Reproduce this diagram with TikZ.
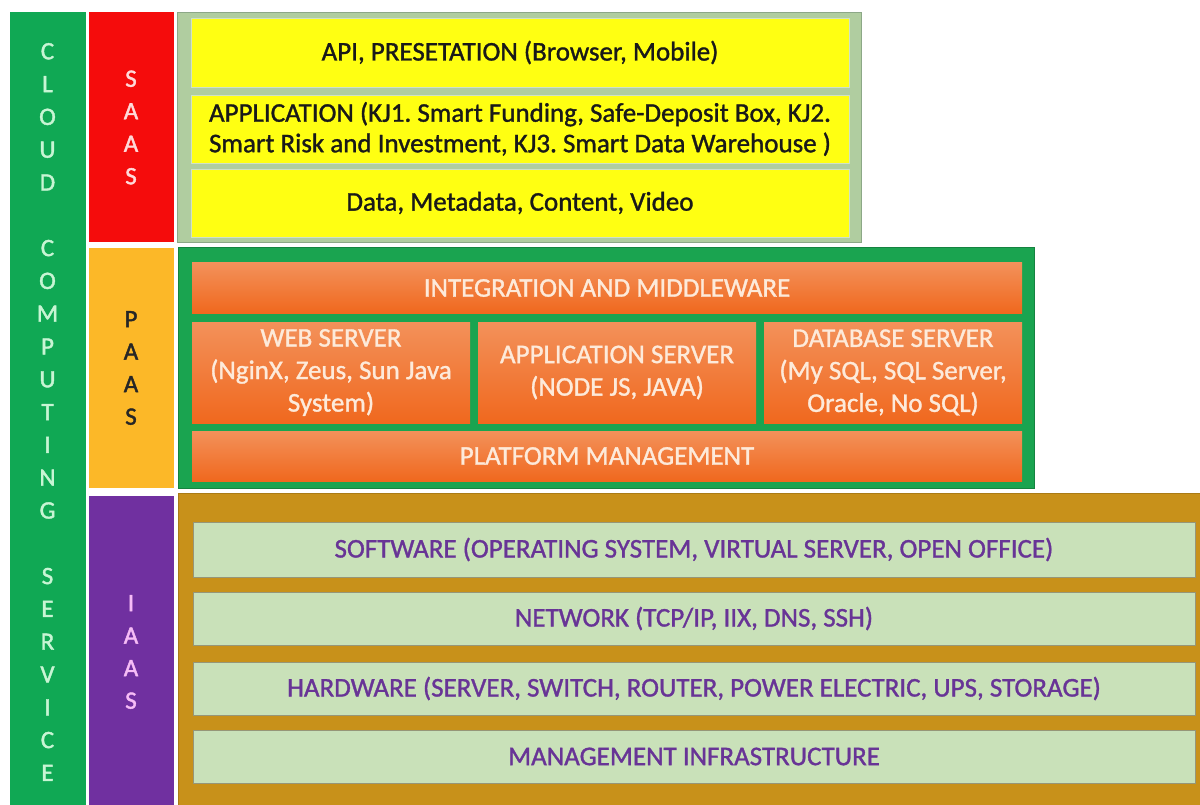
\documentclass[tikz,border=0pt]{standalone}
\usepackage{fontspec}
\setmainfont{Carlito}
\newfontfamily\bodyfont{Carlito}[FakeBold=1.2]
\newfontfamily\labelfont{Carlito}[FakeBold=1.6]
\frenchspacing
\definecolor{cloudgreen}{RGB}{16,168,84}
\definecolor{saasred}{RGB}{245,12,12}
\definecolor{paasgold}{RGB}{252,184,40}
\definecolor{iaaspurple}{RGB}{112,48,160}
\definecolor{saasback}{RGB}{176,205,160}
\definecolor{saasedge}{RGB}{140,168,135}
\definecolor{saasyellow}{RGB}{255,255,18}
\definecolor{paasgreen}{RGB}{26,164,80}
\definecolor{orangetop}{RGB}{243,145,90}
\definecolor{orangebot}{RGB}{240,104,30}
\definecolor{orangetext}{RGB}{253,234,218}
\definecolor{iaasbrown}{RGB}{200,145,26}
\definecolor{iaaslight}{RGB}{201,225,185}
\definecolor{iaasedge}{RGB}{150,150,120}
\definecolor{iaastext}{RGB}{104,52,150}
\definecolor{cloudletter}{RGB}{200,245,212}
\definecolor{saasletter}{RGB}{255,218,218}
\definecolor{iaasletter}{RGB}{246,188,246}
\tikzset{
  x=1pt, y=-1pt,
  panel/.style={rectangle, inner sep=0pt, outer sep=0pt, draw=white, line width=1pt},
  column/.style={panel, font=\labelfont\fontsize{25}{32.5}\selectfont, align=center},
  yellowbox/.style={panel, fill=saasyellow, draw=saasback!60!white, line width=0.8pt,
    text=black!90, font=\bodyfont\fontsize{27}{30.5}\selectfont, align=center},
  orangebox/.style={panel, draw=none, top color=orangetop, bottom color=orangebot,
    text=orangetext, font=\bodyfont\fontsize{27}{32.5}\selectfont, align=center},
  greenbox/.style={panel, fill=iaaslight, draw=iaasedge, line width=0.8pt,
    text=iaastext, font=\bodyfont\fontsize{27}{30}\selectfont, align=center},
}
\begin{document}
\begin{tikzpicture}
\useasboundingbox (0,0) rectangle (1200,805);
\fill[white] (0,0) rectangle (1200,805);

% left-hand stacked labels
\node[column, fill=cloudgreen, text=cloudletter, minimum width=77, minimum height=795]
  (cloud) at (47.5,409.5) {};
\node[text=cloudletter, font=\labelfont\fontsize{25}{32.8}\selectfont, align=center, inner sep=0pt]
  (cloudtxt) at (47.5,412) {C\\L\\O\\U\\D\\[32.8pt]C\\O\\M\\P\\U\\T\\I\\N\\G\\[32.8pt]S\\E\\R\\V\\I\\C\\E};

\node[column, fill=saasred, text=saasletter, minimum width=86, minimum height=231]
  (saaslbl) at (131,127.5) {S\\A\\A\\S};
\node[column, fill=paasgold, text=black!85, minimum width=86, minimum height=240]
  (paaslbl) at (131,368) {P\\A\\A\\S};
\node[column, fill=iaaspurple, text=iaasletter, minimum width=86, minimum height=314]
  (iaaslbl) at (131,652) {I\\A\\A\\S};

% SaaS layer
\node[panel, fill=saasback, draw=saasedge, line width=1.5pt, minimum width=684, minimum height=230]
  (saas) at (519.5,127.5) {};
\node[yellowbox, minimum width=658, minimum height=69] (api) at (520,52.5)
  {API, PRESETATION (Browser, Mobile)};
\node[yellowbox, minimum width=658, minimum height=68] (app) at (520,129)
  {APPLICATION (KJ1. Smart Funding, Safe-Deposit Box, KJ2.\\Smart Risk and Investment, KJ3. Smart Data Warehouse )};
\node[yellowbox, minimum width=658, minimum height=68] (data) at (520,203)
  {Data, Metadata, Content, Video};

% PaaS layer
\node[panel, fill=paasgreen, draw=paasgreen!80!black, line width=1pt, minimum width=856, minimum height=240]
  (paas) at (606,368) {};
\node[orangebox, minimum width=830, minimum height=50] (integ) at (607,288)
  {INTEGRATION AND MIDDLEWARE};
\node[orangebox, minimum width=278, minimum height=101] (web) at (331,372.5)
  {WEB SERVER\\(NginX, Zeus, Sun Java\\System)};
\node[orangebox, minimum width=278, minimum height=101] (appsrv) at (617,372.5)
  {APPLICATION SERVER\\(NODE JS, JAVA)};
\node[orangebox, minimum width=258, minimum height=101] (db) at (893,372.5)
  {DATABASE SERVER\\(My SQL, SQL Server,\\Oracle, No SQL)};
\node[orangebox, minimum width=830, minimum height=50] (platform) at (607,456)
  {PLATFORM MANAGEMENT};

% IaaS layer
\node[panel, fill=iaasbrown, draw=iaasbrown!85!black, line width=1pt, minimum width=1026, minimum height=314]
  (iaas) at (691,650) {};
\node[greenbox, minimum width=1002, minimum height=55] (software) at (694,549.5)
  {SOFTWARE (OPERATING SYSTEM, VIRTUAL SERVER, OPEN OFFICE)};
\node[greenbox, minimum width=1002, minimum height=53] (network) at (694,618.5)
  {NETWORK (TCP/IP, IIX, DNS, SSH)};
\node[greenbox, minimum width=1002, minimum height=53] (hardware) at (694,688.5)
  {HARDWARE (SERVER, SWITCH, ROUTER, POWER ELECTRIC, UPS, STORAGE)};
\node[greenbox, minimum width=1002, minimum height=53] (mgmt) at (694,756.5)
  {MANAGEMENT INFRASTRUCTURE};
\end{tikzpicture}
\end{document}
